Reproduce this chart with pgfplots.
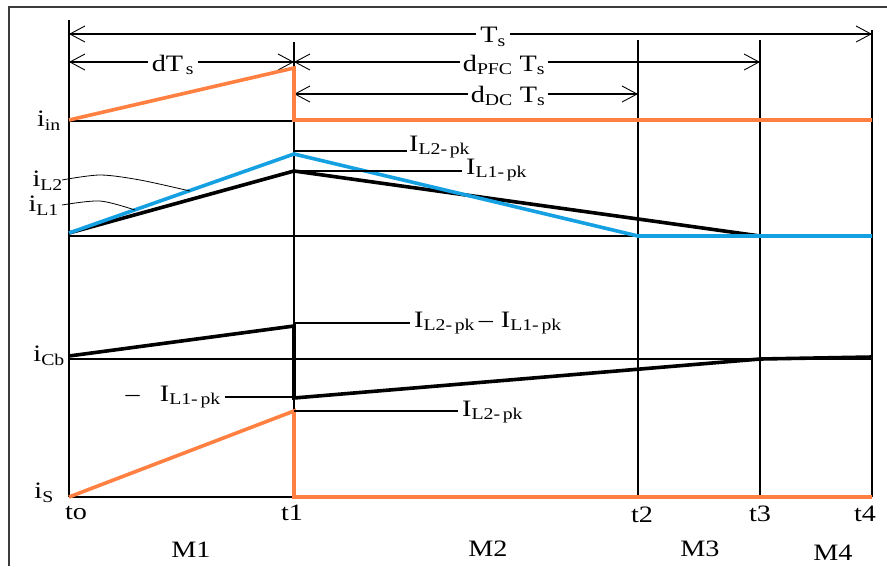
\documentclass[border=0pt]{standalone}
\usepackage{fontspec}
\setmainfont[FakeStretch=1.2]{Liberation Serif}
\usepackage{pgfplots}
\pgfplotsset{compat=1.18}
\usetikzlibrary{arrows.meta}

\definecolor{curorange}{RGB}{255,128,64}
\definecolor{curblue}{RGB}{20,160,225}
\definecolor{framegray}{RGB}{60,60,60}

\tikzset{
  thin line/.style={black, line width=1.1pt},
  wave/.style={line width=3.6pt, line join=miter},
  dim/.style={black, line width=1.1pt, {Straight Barb[length=15pt,width=16pt,line width=0.9pt]}-{Straight Barb[length=15pt,width=16pt,line width=0.9pt]}},
  lab/.style={font=\fontsize{23.5}{26}\selectfont, inner sep=1pt},
}

\begin{document}
\begin{tikzpicture}
\begin{axis}[
  width=887pt, height=566pt, scale only axis,
  xmin=0, xmax=887, ymin=0, ymax=566,
  y dir=reverse,
  hide axis,
  clip=false,
  every axis plot/.append style={no marks},
]
\coordinate (corner-a) at (axis cs:0,566);
\coordinate (corner-b) at (axis cs:887,0);

% outer frame
\addplot[framegray, line width=1.4pt] coordinates {(887,7) (9,7) (9,566)};

% time instants
\addplot[thin line] coordinates {(69,20) (69,497)};
\addplot[thin line] coordinates {(294,42) (294,497)};
\addplot[thin line] coordinates {(638,40) (638,497)};
\addplot[thin line] coordinates {(760,40) (760,497)};
\addplot[thin line] coordinates {(872,30) (872,497)};

% zero levels of each waveform
\addplot[thin line] coordinates {(69,121) (294,121)};
\addplot[thin line] coordinates {(69,236) (872,236)};
\addplot[thin line] coordinates {(69,359) (872,359)};
\addplot[thin line] coordinates {(69,497) (294,497)};

% interval dimensions
\addplot[dim] coordinates {(69,34) (872,34)};
\addplot[dim] coordinates {(69,62) (294,62)};
\addplot[dim] coordinates {(294,62) (760,62)};
\addplot[dim] coordinates {(294,94) (638,94)};

% input current
\addplot[wave, curorange] coordinates {(69,120) (294,68) (294,120) (872,120)};

% inductor currents
\addplot[wave, black] coordinates {(69,233) (294,171) (760,236)};
\addplot[wave, curblue] coordinates {(69,233) (294,154) (638,236) (872,236)};

% capacitor current
\addplot[wave, black] coordinates {(69,356) (294,326) (294,398) (760,359) (872,357)};

% switch current
\addplot[wave, curorange] coordinates {(69,497) (294,411) (294,497) (872,497)};

% leader lines to the peak labels
\addplot[thin line] coordinates {(294,151) (407,151)};
\addplot[thin line] coordinates {(294,171) (462,171)};
\addplot[thin line] coordinates {(294,323) (410,323)};
\addplot[thin line] coordinates {(225,397) (294,397)};
\addplot[thin line] coordinates {(294,411) (458,411)};
\addplot[black, line width=0.8pt, smooth] coordinates {(62,180) (100,175) (140,180) (190,191)};
\addplot[black, line width=0.8pt, smooth] coordinates {(62,205) (100,201) (135,210)};

% dimension labels
\node[lab, fill=white, inner xsep=4pt] at (axis cs:493,37) {T\textsubscript{s}};
\node[lab, fill=white, inner xsep=4pt] at (axis cs:173,65) {dT\textsubscript{\,s}};
\node[lab, fill=white, inner xsep=3pt] at (axis cs:504,65) {d\textsubscript{PFC} T\textsubscript{s}};
\node[lab, fill=white, inner xsep=3pt] at (axis cs:508,96) {d\textsubscript{DC} T\textsubscript{s}};

% waveform names
\node[lab, anchor=east] at (axis cs:62,121) {i\textsubscript{in}};
\node[lab, anchor=east] at (axis cs:64,181) {i\textsubscript{L2}};
\node[lab, anchor=east] at (axis cs:60,206) {i\textsubscript{L1}};
\node[lab, anchor=east] at (axis cs:66,356) {i\textsubscript{Cb}};
\node[lab, anchor=east] at (axis cs:55,493) {i\textsubscript{S}};

% peak labels
\node[lab, anchor=west] at (axis cs:408,147) {I\textsubscript{L2-\,pk}};
\node[lab, anchor=west] at (axis cs:465,170) {I\textsubscript{L1-\,pk}};
\node[lab, anchor=west] at (axis cs:413,323) {I\textsubscript{L2-\,pk}\,--\,\,I\textsubscript{L1-\,pk}};
\node[lab, anchor=east] at (axis cs:222,397) {--\;\; I\textsubscript{L1-\,pk}};
\node[lab, anchor=west] at (axis cs:461,412) {I\textsubscript{L2-\,pk}};

% instants
\node[lab] at (axis cs:76,513) {to};
\node[lab] at (axis cs:292,513) {t1};
\node[lab] at (axis cs:642,515) {t2};
\node[lab] at (axis cs:760,514) {t3};
\node[lab] at (axis cs:865,514) {t4};

% modes
\node[lab] at (axis cs:191,550) {M1};
\node[lab] at (axis cs:488,549) {M2};
\node[lab] at (axis cs:700,549) {M3};
\node[lab] at (axis cs:833,553) {M4};
\end{axis}
\pgfresetboundingbox
\useasboundingbox (corner-a) rectangle (corner-b);
\end{tikzpicture}
\end{document}
